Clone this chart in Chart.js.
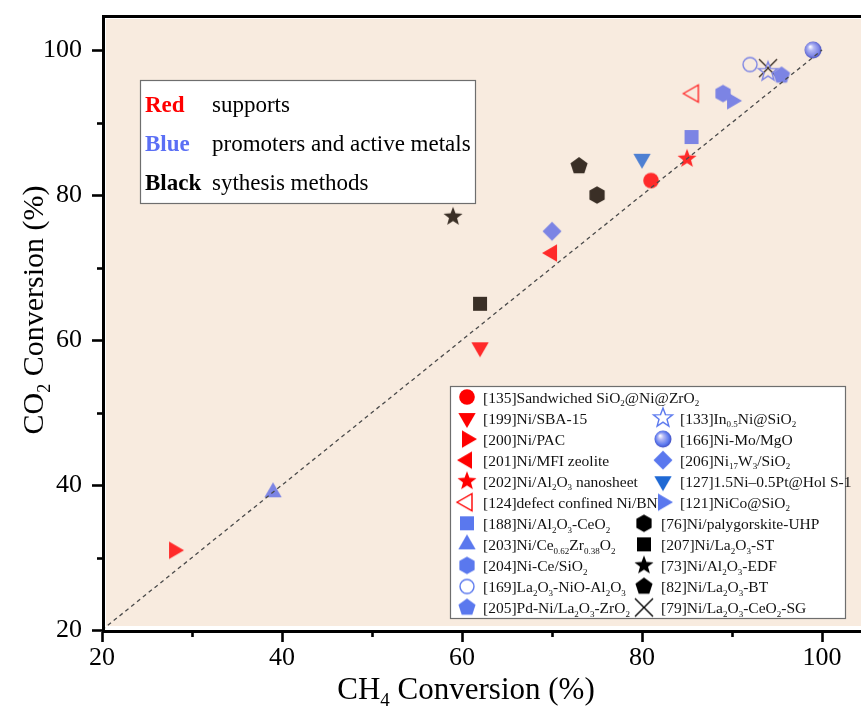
<!DOCTYPE html>
<html><head><meta charset="utf-8">
<script src="https://cdn.jsdelivr.net/npm/chart.js@4.4.0/dist/chart.umd.min.js"></script>
<style>html,body{margin:0;padding:0;background:#fff;overflow:hidden}#wrap{width:861px;height:713px;position:relative}canvas{display:block}</style>
</head><body><div id="wrap"><canvas id="c" width="861" height="713"></canvas></div>
<script>
// ---------------- data ----------------
const seriesLabels = [
  '[135]Sandwiched SiO_{2}@Ni@ZrO_{2}',
  '[199]Ni/SBA-15',
  '[200]Ni/PAC',
  '[201]Ni/MFI zeolite',
  '[202]Ni/Al_{2}O_{3} nanosheet',
  '[124]defect confined Ni/BN',
  '[188]Ni/Al_{2}O_{3}-CeO_{2}',
  '[203]Ni/Ce_{0.62}Zr_{0.38}O_{2}',
  '[204]Ni-Ce/SiO_{2}',
  '[169]La_{2}O_{3}-NiO-Al_{2}O_{3}',
  '[205]Pd-Ni/La_{2}O_{3}-ZrO_{2}',
  '[133]In_{0.5}Ni@SiO_{2}',
  '[166]Ni-Mo/MgO',
  '[206]Ni_{17}W_{3}/SiO_{2}',
  '[127]1.5Ni\u20130.5Pt@Hol S-1',
  '[121]NiCo@SiO_{2}',
  '[76]Ni/palygorskite-UHP',
  '[207]Ni/La_{2}O_{3}-ST',
  '[73]Ni/Al_{2}O_{3}-EDF',
  '[82]Ni/La_{2}O_{3}-BT',
  '[79]Ni/La_{2}O_{3}-CeO_{2}-SG'
];
const ch4Conversion = [81, 62, 28, 70, 85, 85.7, 85.5, 39, 89, 92, 95.5, 94, 99, 70, 80, 90, 75, 62, 59, 73, 94];
const co2Conversion = [82, 59, 31, 72, 85, 94, 88, 39, 94, 98, 96.5, 97, 100, 75, 85, 93, 80, 65, 77, 84, 97.5];
const categoryNames = ['Red', 'Blue', 'Black'];
const categoryTexts = ['supports', 'promoters and active metals', 'sythesis methods'];
const xTicks = [20, 40, 60, 80, 100];
const yTicks = [20, 40, 60, 80, 100];
const parityLine = [20, 100];

// ---------------- styles ----------------
const FONT = "'Liberation Serif', 'Times New Roman', serif";
const PLOT_COL = { red: '#ff2a2a', blue: '#7c84e4', dblue: '#4d7fd2', black: '#3a2f26' };
const LEG_COL = { red: '#ff0000', blue: '#5a78ee', dblue: '#1f69d4', black: '#000000' };
const markerStyles = [
  ['circle','red'],['triDown','red'],['triRight','red'],['triLeft','red'],['star','red'],['triLeftOpen','red'],
  ['square','blue'],['triUp','blue'],['hexagon','blue'],['circleOpen','blue'],['pentagon','blue'],
  ['starOpen','blue'],['sphere','blue'],['diamond','blue'],['triDown','dblue'],['triRight','blue'],
  ['hexagon','black'],['square','black'],['star','black'],['pentagon','black'],['cross','black']
];

function poly(g, n, R, start) {
  for (let i = 0; i < n; i++) {
    const a = (start + i * 360 / n) * Math.PI / 180;
    const x = R * Math.cos(a), y = R * Math.sin(a);
    if (i) g.lineTo(x, y); else g.moveTo(x, y);
  }
  g.closePath();
}
function starPath(g, R, r) {
  for (let i = 0; i < 10; i++) {
    const rr = i % 2 ? r : R;
    const a = (-90 + i * 36) * Math.PI / 180;
    const x = rr * Math.cos(a), y = rr * Math.sin(a);
    if (i) g.lineTo(x, y); else g.moveTo(x, y);
  }
  g.closePath();
}
function shapePath(g, s) {
  g.beginPath();
  switch (s) {
    case 'circle': g.arc(0, 0, 7.8, 0, 2 * Math.PI); break;
    case 'circleO': g.arc(0, 0, 7, 0, 2 * Math.PI); break;
    case 'square': g.rect(-7, -7, 14, 14); break;
    case 'triUp': poly(g, 3, 10, -90); break;
    case 'triDown': poly(g, 3, 10, 90); break;
    case 'triLeft': poly(g, 3, 10, 180); break;
    case 'triRight': poly(g, 3, 10, 0); break;
    case 'hexagon': poly(g, 6, 8.8, -90); break;
    case 'pentagon': poly(g, 5, 9, -90); break;
    case 'diamond': poly(g, 4, 9.5, -90); break;
    case 'star': starPath(g, 10, 4.2); break;
  }
}
function makeMarker(shape, color) {
  const S = 26, c = document.createElement('canvas');
  c.width = S; c.height = S;
  const g = c.getContext('2d');
  g.translate(S / 2, S / 2);
  if (shape === 'cross') {
    g.strokeStyle = color; g.lineWidth = 1.4; g.beginPath();
    g.moveTo(-9, -9); g.lineTo(9, 9); g.moveTo(9, -9); g.lineTo(-9, 9); g.stroke();
    return c;
  }
  if (shape === 'sphere') {
    const gr = g.createRadialGradient(-3, -3.5, 0.3, 0, 0, 9);
    gr.addColorStop(0, '#ffffff'); gr.addColorStop(0.3, '#b4b8f4');
    gr.addColorStop(0.75, color); gr.addColorStop(1, '#3f47b8');
    g.fillStyle = gr; g.beginPath(); g.arc(0, 0, 8.5, 0, 2 * Math.PI); g.fill();
    return c;
  }
  const open = shape.endsWith('Open');
  let base = open ? shape.slice(0, -4) : shape;
  if (base === 'circle' && open) base = 'circleO';
  shapePath(g, base);
  if (open) { g.strokeStyle = color; g.lineWidth = 1.4; g.stroke(); }
  else { g.fillStyle = color; g.fill(); }
  return c;
}
const plotMarkers = markerStyles.map(([s, col]) => makeMarker(s, PLOT_COL[col]));
const legendMarkers = markerStyles.map(([s, col]) => makeMarker(s, LEG_COL[col]));

// ---------------- rich text ----------------
function parseRich(s) {
  const segs = []; const re = /_\{([^}]*)\}/g; let last = 0, m;
  while ((m = re.exec(s))) {
    if (m.index > last) segs.push({ t: s.slice(last, m.index), sub: false });
    segs.push({ t: m[1], sub: true }); last = re.lastIndex;
  }
  if (last < s.length) segs.push({ t: s.slice(last), sub: false });
  return segs;
}
function drawRich(ctx, s, x, y, size, align, weight, color, subRatio) {
  const segs = parseRich(s); weight = weight || 'normal';
  const subSize = Math.round(size * (subRatio || 0.62));
  let w = 0;
  segs.forEach(sg => { ctx.font = `${weight} ${sg.sub ? subSize : size}px ${FONT}`; sg.w = ctx.measureText(sg.t).width; w += sg.w; });
  let cx = align === 'center' ? x - w / 2 : x;
  ctx.fillStyle = color || '#000'; ctx.textAlign = 'left'; ctx.textBaseline = 'alphabetic';
  segs.forEach(sg => {
    ctx.font = `${weight} ${sg.sub ? subSize : size}px ${FONT}`;
    ctx.fillText(sg.t, cx, y + (sg.sub ? size * 0.24 : 0));
    cx += sg.w;
  });
}

// ---------------- datasets ----------------
const datasets = seriesLabels.map((lab, i) => ({
  type: 'scatter', label: lab,
  data: [{ x: ch4Conversion[i], y: co2Conversion[i] }],
  pointStyle: plotMarkers[i], pointRadius: 9, order: i
}));
datasets.push({
  type: 'line', label: 'parity', data: parityLine.map(v => ({ x: v, y: v })),
  borderColor: '#4a4a4a', borderWidth: 1.3, borderDash: [4, 3.5], pointRadius: 0, fill: false, order: -1
});

const decor = {
  id: 'decor',
  beforeDraw(chart) {
    const { ctx, chartArea: a } = chart;
    ctx.save();
    ctx.fillStyle = '#ffffff'; ctx.fillRect(0, 0, chart.width, chart.height);
    ctx.fillStyle = '#f8ebdf'; ctx.fillRect(a.left + 4, a.top + 4, a.right - a.left - 4, a.bottom - a.top - 8);
    ctx.restore();
  },
  afterDraw(chart) {
    const { ctx, chartArea: a, scales: { x, y } } = chart;
    ctx.save();
    // frame
    ctx.strokeStyle = '#000'; ctx.lineWidth = 3; ctx.lineCap = 'butt';
    ctx.beginPath();
    ctx.moveTo(chart.width, a.top + 1.5); ctx.lineTo(a.left + 1.5, a.top + 1.5);
    ctx.lineTo(a.left + 1.5, a.bottom + 1.5); ctx.lineTo(chart.width, a.bottom + 1.5);
    ctx.stroke();
    // ticks
    ctx.lineWidth = 2.6;
    for (let v = 20; v <= 100; v += 10) {
      const len = v % 20 === 0 ? 10 : 5;
      const px = Math.round(x.getPixelForValue(v)) + 0.5;
      ctx.beginPath(); ctx.moveTo(px, a.bottom + 2); ctx.lineTo(px, a.bottom + 2 + len); ctx.stroke();
      const py = Math.round(y.getPixelForValue(v)) + 0.5;
      ctx.beginPath(); ctx.moveTo(a.left, py); ctx.lineTo(a.left - len, py); ctx.stroke();
    }
    // axis titles
    drawRich(ctx, 'CH_{4} Conversion (%)', 466, 699, 31, 'center', 'normal', '#000', 0.6);
    ctx.save();
    ctx.translate(43, 310); ctx.rotate(-Math.PI / 2);
    drawRich(ctx, 'CO_{2} Conversion (%)', 0, 0, 30, 'center', 'normal', '#000', 0.6);
    ctx.restore();
    // category box
    ctx.fillStyle = '#ffffff'; ctx.fillRect(140, 80, 335, 123);
    ctx.strokeStyle = '#6e6e6e'; ctx.lineWidth = 1.2; ctx.strokeRect(140.5, 80.5, 335, 123);
    const catCols = [LEG_COL.red, '#5b6ff5', '#000'];
    categoryNames.forEach((n, i) => {
      const by = 112 + i * 39;
      drawRich(ctx, n, 145, by, 23, 'left', 'bold', catCols[i]);
      drawRich(ctx, categoryTexts[i], 212, by, 23, 'left', 'normal', '#000');
    });
    // series legend
    ctx.fillStyle = '#ffffff'; ctx.fillRect(450, 386, 396, 233);
    ctx.strokeStyle = '#6e6e6e'; ctx.lineWidth = 1.2; ctx.strokeRect(450.5, 386.5, 395, 232);
    seriesLabels.forEach((lab, i) => {
      let row, mx, tx;
      if (i <= 10) { row = i; mx = 467; tx = 483; }
      else if (i <= 15) { row = i - 10; mx = 663; tx = 680; }
      else { row = i - 10; mx = 644; tx = 661; }
      const cy = 397 + row * 21.05;
      const m = legendMarkers[i];
      ctx.drawImage(m, mx - m.width / 2, cy - m.height / 2);
      drawRich(ctx, lab, tx, cy + 5.5, 15.5, 'left', 'normal', '#111', 0.6);
    });
    ctx.restore();
  }
};

function zeroPad(s) { s.paddingTop = 0; s.paddingBottom = 0; s.paddingLeft = 0; s.paddingRight = 0; }

new Chart(document.getElementById('c'), {
  type: 'scatter',
  data: { datasets },
  options: {
    responsive: false, animation: false, events: [],
    layout: { autoPadding: false, padding: { top: 15, right: 0, left: 0, bottom: 0 } },
    plugins: { legend: { display: false }, tooltip: { enabled: false } },
    scales: {
      x: {
        type: 'linear', min: 20, max: 104.33,
        grid: { display: false, drawTicks: false }, border: { display: false },
        ticks: { stepSize: 20, includeBounds: false, autoSkip: false, maxRotation: 0, padding: 13, color: '#000',
          font: { family: FONT, size: 26 },
          callback: v => xTicks.includes(v) ? String(v) : '' },
        afterFit: s => { s.height = 83; zeroPad(s); }
      },
      y: {
        type: 'linear', min: 20, max: 104.83,
        grid: { display: false, drawTicks: false }, border: { display: false },
        ticks: { stepSize: 20, includeBounds: false, autoSkip: false, padding: 20, color: '#000',
          font: { family: FONT, size: 26 },
          callback: v => yTicks.includes(v) ? String(v) : '' },
        afterFit: s => { s.width = 102; zeroPad(s); }
      }
    }
  },
  plugins: [decor]
});
</script></body></html>
